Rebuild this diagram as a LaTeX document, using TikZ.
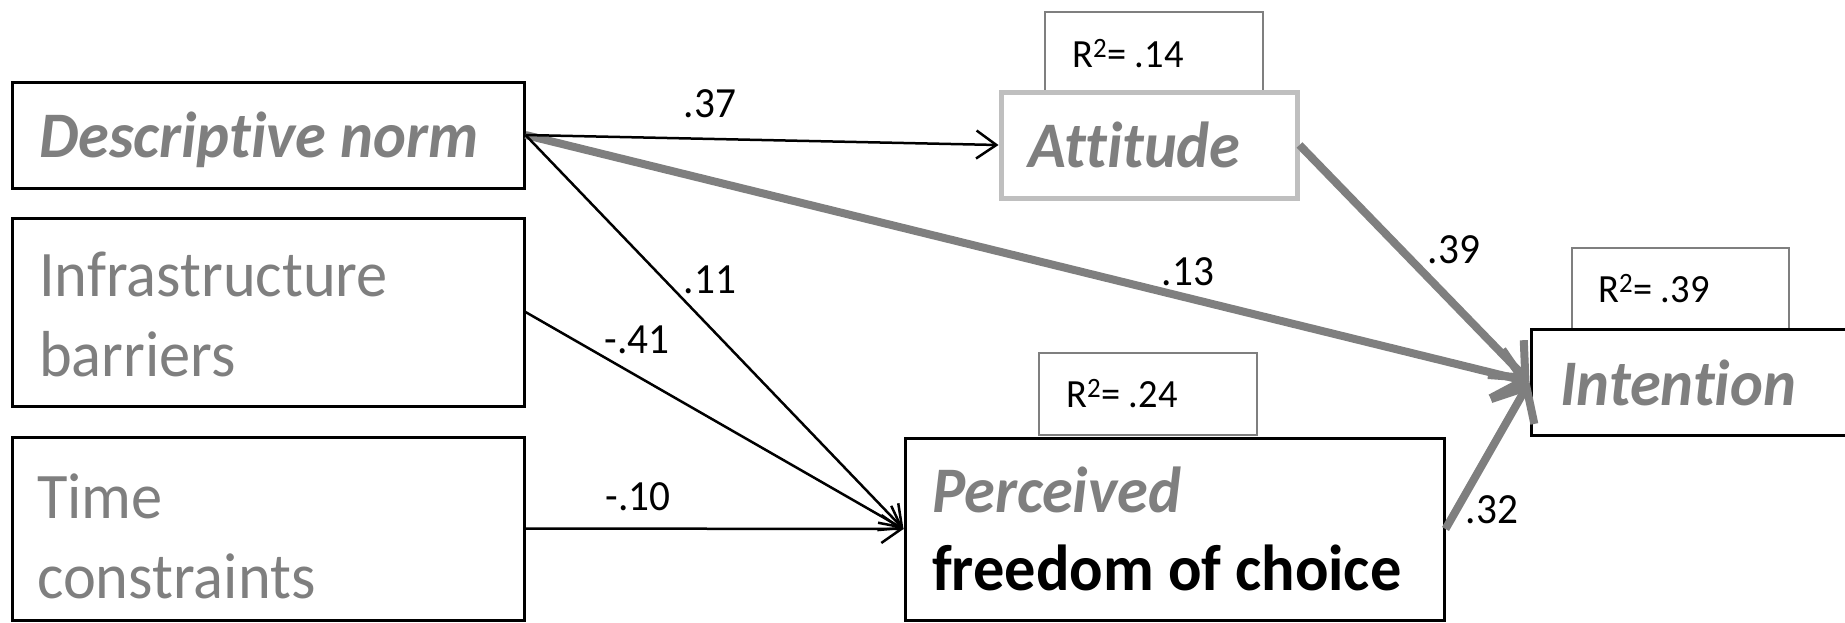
\documentclass[tikz,border=0pt]{standalone}
\usepackage{fontspec}
\setmainfont{Carlito}[Ligatures=NoCommon, FakeStretch=0.96]
\usetikzlibrary{arrows.meta}
\definecolor{txtgray}{HTML}{7F7F7F}
\definecolor{boxgray}{HTML}{BFBFBF}
\begin{document}
\begin{tikzpicture}[x=1pt,y=-1pt,
  box/.style={draw=black, line width=3pt, rectangle, inner sep=0pt, fill=white},
  attbox/.style={draw=boxgray, line width=5pt, rectangle, inner sep=0pt, fill=white},
  rbox/.style={draw=txtgray, line width=2.5pt, rectangle, inner sep=0pt, fill=white},
  big/.style={font=\fontsize{65}{78}\selectfont, anchor=base west, inner sep=0pt},
  bigg/.style={big, text=txtgray},
  bigit/.style={font=\fontsize{65}{78}\selectfont\bfseries\itshape, anchor=base west, inner sep=0pt, text=txtgray},
  bigbf/.style={font=\fontsize{65}{78}\selectfont\bfseries, anchor=base west, inner sep=0pt, text=black},
  rtext/.style={font=\fontsize{40}{48}\selectfont, anchor=base west, inner sep=0pt},
  lbl/.style={font=\fontsize{43}{50}\selectfont, inner sep=0pt},
  thin/.style={draw=black, line width=2.5pt, -{Straight Barb[length=20pt,width=28pt]}},
  thick/.style={draw=txtgray, line width=8pt, -{Straight Barb[length=28pt,width=50pt]}},
]
\useasboundingbox (0,0) rectangle (1845,622);

% boxes
\node[box, minimum width=512pt, minimum height=106pt] (desc) at (268,135) {};
\node[box, minimum width=512pt, minimum height=188pt] (infra) at (268,312) {};
\node[box, minimum width=512pt, minimum height=183pt] (time) at (268,528.5) {};

\node[rbox, minimum width=218pt, minimum height=80pt] (attr) at (1154,52) {};
\node[attbox, minimum width=296pt, minimum height=106pt] (att) at (1149,145) {};

\node[rbox, minimum width=217pt, minimum height=81pt] (intr) at (1680.5,288.5) {};
\node[box, minimum width=330pt, minimum height=106pt] (int) at (1696,382) {};

\node[rbox, minimum width=218pt, minimum height=82pt] (percr) at (1148,394) {};
\node[box, minimum width=539pt, minimum height=182pt] (perc) at (1174.5,529) {};

% texts
\node[bigit] (tdesc) at (39,157.5) {Descriptive norm};
\node[bigg] (tinfra1) at (39,296) {Infrastructure};
\node[bigg] (tinfra2) at (39,376) {barriers};
\node[bigg] (ttime1) at (37,518) {Time};
\node[bigg] (ttime2) at (37,598.5) {constraints};
\node[bigit] (tatt) at (1028,167) {Attitude};
\node[bigit] (tint) at (1560,405) {Intention};
\node[bigit] (tperc1) at (932,512) {Perceived};
\node[bigbf] (tperc2) at (932,590) {freedom of choice};

\node[rtext] (rt1) at (1072,67) {R\textsuperscript{2}= .14};
\node[rtext] (rt2) at (1598,302) {R\textsuperscript{2}= .39};
\node[rtext] (rt3) at (1066,407) {R\textsuperscript{2}= .24};

% connectors
\draw[thick] (desc.east) -- (int.west);
\draw[thick] (att.east) -- (int.west);
\draw[thick] (perc.east) -- (int.west);
\draw[thin] (desc.east) -- (att.west);
\draw[thin] (desc.east) -- (perc.west);
\draw[thin] (infra.east) -- (perc.west);
\draw[thin] (time.east) -- (perc.west);

% labels
\node[lbl] (l37) at (710,104) {.37};
\node[lbl] (l11) at (710,280) {.11};
\node[lbl] (l41) at (637,340) {-.41};
\node[lbl] (l10) at (638,497) {-.10};
\node[lbl] (l13) at (1188,272) {.13};
\node[lbl] (l39) at (1454,250) {.39};
\node[lbl] (l32) at (1492,510) {.32};
\end{tikzpicture}
\end{document}
